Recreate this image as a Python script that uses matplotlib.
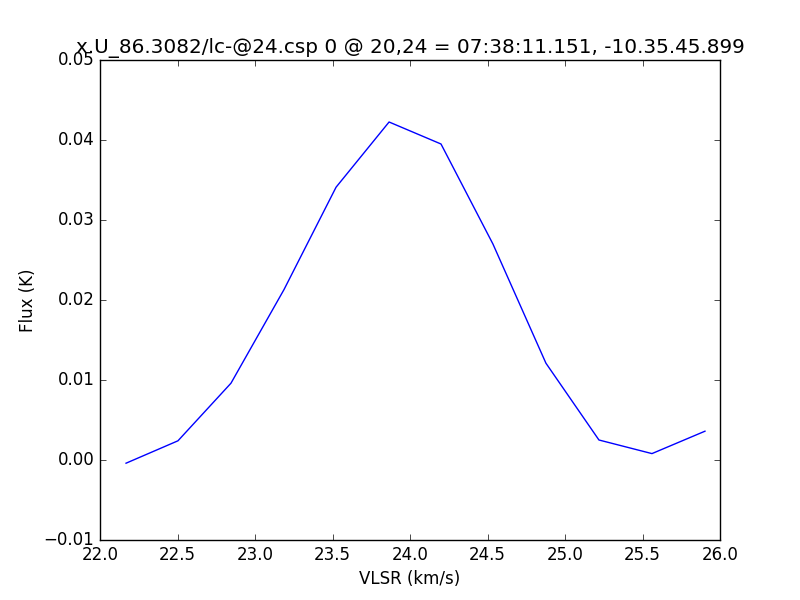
import matplotlib
matplotlib.use("Agg")
import matplotlib.pyplot as plt

# spectrum values
vlsr = [22.168, 22.503, 22.845, 23.187, 23.523, 23.865, 24.200,
        24.535, 24.877, 25.219, 25.561, 25.903]
flux = [-0.0004, 0.0024, 0.0096, 0.0213, 0.0341, 0.04225, 0.0395,
        0.0270, 0.0121, 0.0025, 0.0008, 0.0036]

title = "x.U_86.3082/lc-@24.csp 0 @ 20,24 = 07:38:11.151, -10.35.45.899"

plt.style.use("classic")
fig = plt.figure(figsize=(8, 6), dpi=100, facecolor="white")
ax = fig.add_subplot(111)
ax.plot(vlsr, flux, "b-")
ax.set_xlim(22.0, 26.0)
ax.set_ylim(-0.01, 0.05)
ax.set_xlabel("VLSR (km/s)")
ax.set_ylabel("Flux (K)")
ax.set_title(title)
fig.savefig("out.png", dpi=100, facecolor="white")
